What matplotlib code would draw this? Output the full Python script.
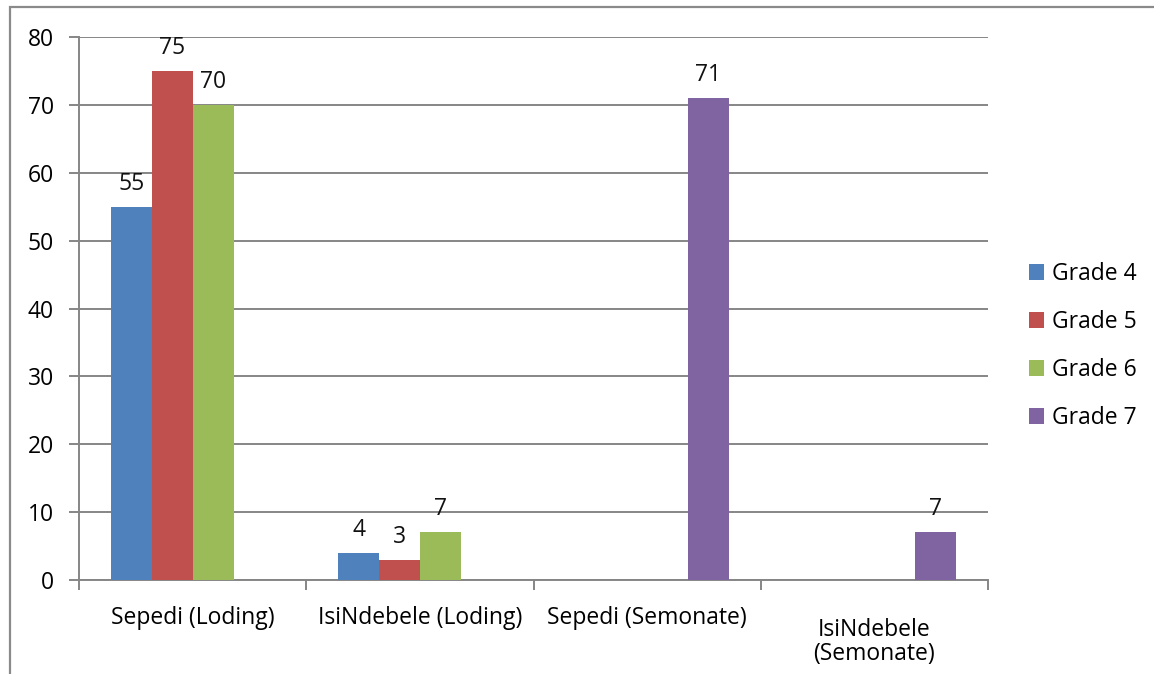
import numpy as np
import matplotlib.pyplot as plt
import matplotlib.transforms as mtransforms
from matplotlib.patches import Rectangle

categories = ["Sepedi (Loding)", "IsiNdebele (Loding)", "Sepedi (Semonate)", "IsiNdebele\n(Semonate)"]
series_names = ["Grade 4", "Grade 5", "Grade 6", "Grade 7"]
grade4 = [55, 4, np.nan, np.nan]
grade5 = [75, 3, np.nan, np.nan]
grade6 = [70, 7, np.nan, np.nan]
grade7 = [np.nan, np.nan, 71, 7]
y_ticks = [0, 10, 20, 30, 40, 50, 60, 70, 80]

colors = ["#4F81BD", "#C0504D", "#9BBB59", "#8064A2"]
grid_col = "#868686"
fs = 16.5

plt.rcParams['font.family'] = ['Open Sans', 'DejaVu Sans']

fig = plt.figure(figsize=(11.54, 6.74), dpi=100)
W, H = 1154, 674
ax = fig.add_axes([79 / W, 1 - 580 / H, (988 - 79) / W, (580 - 37) / H])

# outer chart-area border (left and top edges visible)
fig.add_artist(Rectangle((10 / W, -0.1), 1.2, 1 - 7 / H + 0.1, transform=fig.transFigure,
                         fill=False, edgecolor="#8a8a8a", linewidth=1.6))

n = len(categories)
x = np.arange(n)
bw = 0.18
all_series = [grade4, grade5, grade6, grade7]
for i, (vals, name, c) in enumerate(zip(all_series, series_names, colors)):
    pos = x + (i - 1.5) * bw
    ax.bar(pos, np.nan_to_num(vals), width=bw, color=c, label=name,
           edgecolor="none", zorder=3)
    for p, v in zip(pos, vals):
        if not np.isnan(v):
            ax.annotate(f"{v:g}", (p, v), xytext=(0, 8), textcoords="offset points",
                        ha="center", va="bottom", fontsize=fs, color="#111111")

ax.set_xlim(-0.5, n - 0.5)
ax.set_ylim(0, 80)
ax.set_yticks(y_ticks)
ax.yaxis.grid(True, color=grid_col, linewidth=1.4, zorder=0)
ax.set_axisbelow(True)

# category labels centered, boundary ticks between categories
ax.set_xticks(x)
ax.set_xticklabels(categories, fontsize=fs, linespacing=1.0)
ax.tick_params(axis="x", length=0, pad=19)
ax.set_xticks(np.arange(-0.5, n, 1.0), minor=True)
ax.tick_params(axis="x", which="minor", length=7, width=1.4, color=grid_col)
ax.tick_params(axis="y", length=7, width=1.4, color=grid_col, labelsize=fs, pad=11)

# two-line category label sits lower, centred on its own block
for lbl in ax.get_xticklabels():
    if "\n" in lbl.get_text():
        lbl.set_transform(lbl.get_transform() +
                          mtransforms.ScaledTranslation(0, -12 / 100, fig.dpi_scale_trans))

for s in ["top", "right"]:
    ax.spines[s].set_visible(False)
for s in ["left", "bottom"]:
    ax.spines[s].set_color(grid_col)
    ax.spines[s].set_linewidth(1.4)

ax.legend(loc="center left", bbox_to_anchor=(1008 / W, 1 - 346 / H), bbox_transform=fig.transFigure,
          frameon=False, fontsize=fs, handlelength=0.65, handleheight=0.65,
          handletextpad=0.35, labelspacing=1.05)

fig.savefig("out.png", dpi=100, facecolor="white")
